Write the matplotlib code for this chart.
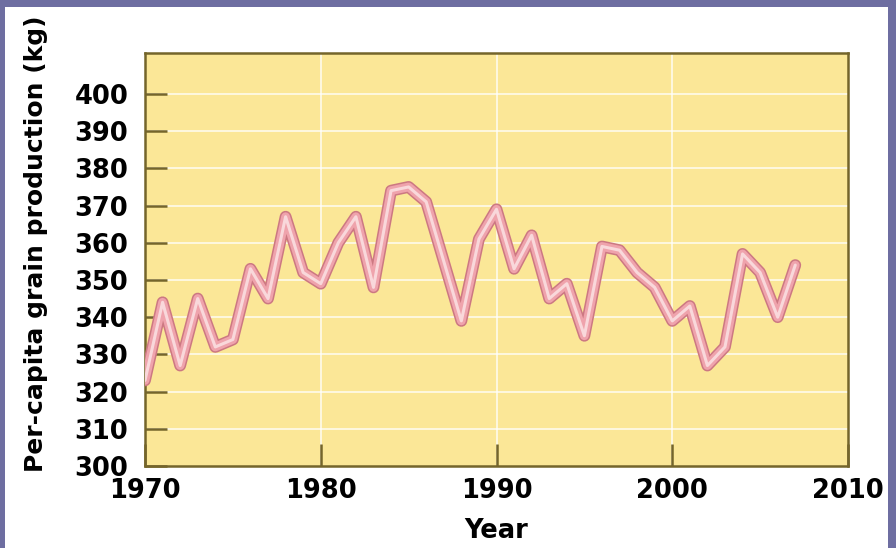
import numpy as np
import matplotlib.pyplot as plt
from matplotlib.patches import Rectangle

# per-capita world grain production, kg per person
years = np.arange(1970, 2008)
grain_kg = [323, 344, 327, 345, 332, 334, 353, 345, 367, 352,
            349, 360, 367, 348, 374, 375, 371, 355, 339, 361,
            369, 353, 362, 345, 349, 335, 359, 358, 352, 348,
            339, 343, 327, 332, 357, 352, 340, 354]

x_ticks = [1970, 1980, 1990, 2000, 2010]
y_ticks = list(range(300, 410, 10))

frame_col = '#6E6EA1'
panel_col = '#FBE797'
axis_col = '#74652B'

fig = plt.figure(figsize=(8.96, 5.48), dpi=100)
fig.patch.set_facecolor(frame_col)
fig.patches.append(Rectangle((5 / 896, 0), 883 / 896, 541 / 548,
                             transform=fig.transFigure, facecolor='white',
                             edgecolor='none', zorder=-5))

ax = fig.add_axes([145 / 896, 82 / 548, 703 / 896, 413 / 548])
ax.set_facecolor(panel_col)
ax.set_xlim(1970, 2010)
ax.set_ylim(300, 411)

# white grid behind the line
for y in y_ticks[1:]:
    ax.axhline(y, color='white', lw=1.3, alpha=0.75, zorder=1)
for x in x_ticks[1:-1]:
    ax.axvline(x, color='white', lw=1.3, alpha=0.75, zorder=1)

# layered stroke gives the outlined pink line
style = dict(solid_joinstyle='round', solid_capstyle='round')
ax.plot(years, grain_kg, color='#CC7882', lw=8.5, zorder=3, **style)
ax.plot(years, grain_kg, color='#EFA3AC', lw=6.3, zorder=4, **style)
ax.plot(years, grain_kg, color='#F9D8DB', lw=2.2, zorder=5, **style)

ax.set_xticks(x_ticks)
ax.set_yticks(y_ticks)
ax.tick_params(axis='both', direction='in', length=16, width=1.8, color=axis_col)
ax.tick_params(axis='y', pad=12)
ax.tick_params(axis='x', pad=9)
for lab in ax.get_xticklabels() + ax.get_yticklabels():
    lab.set_fontsize(18.5)
    lab.set_fontweight('bold')

for s in ax.spines.values():
    s.set_color(axis_col)
    s.set_linewidth(1.8)

ax.set_xlabel('Year', fontsize=18.5, fontweight='bold', labelpad=10)
ax.set_ylabel('Per-capita grain production (kg)', fontsize=18,
              fontweight='bold')
ax.yaxis.set_label_coords(-0.138, 0.537)

fig.savefig('out.png', dpi=100, facecolor=fig.get_facecolor())
